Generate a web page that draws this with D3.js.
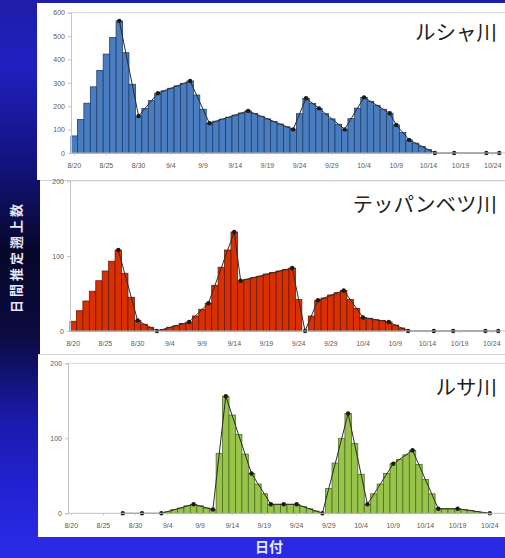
<!DOCTYPE html>
<html>
<head>
<meta charset="utf-8">
<script src="https://cdn.jsdelivr.net/npm/d3@7"></script>
<style>
  html, body { margin: 0; padding: 0; background: #0a0a30; }
  svg { display: block; }
</style>
</head>
<body>
<svg id="chart" width="505" height="558"></svg>
<script>
// x-axis labels, one every five days
const tickLabels = ["8/20","8/25","8/30","9/4","9/9","9/14","9/19","9/24","9/29","10/4","10/9","10/14","10/19","10/24"];

// daily estimated counts, 8/20 .. 10/24
const rushaDaily = [73,143,213,283,353,423,494,565,429,294,158,191,224,256,266,277,287,298,308,248,187,127,
  136,145,153,162,171,180,169,157,146,135,124,112,101,168,234,212,191,168,146,123,101,147,192,238,
  221,204,187,170,120,88,56,42,28,14,0,0,0,0,0,0,0,0,0,0];
const teppanDaily = [13,27,40,53,67,80,93,108,77,45,14,9,5,0,2,5,7,10,12,20,29,37,61,85,108,132,
  67,69,71,73,76,78,80,82,84,42,0,20,41,44,48,51,54,42,30,18,17,15,14,12,8,4,0,0,0,0,0,0,0,0,0,0,0,0,0,0];
const rusaDaily = [0,0,0,0,0,0,0,0,0,0,0,0,0,0,0,2,5,7,10,12,10,7,5,80,156,131,105,79,53,39,26,12,
  12,12,12,12,9,6,3,0,33,67,100,133,93,52,12,26,39,53,66,72,78,84,65,45,26,6,6,6,6,5,4,2,1,0];

// survey days (date, count)
const rushaObs = [["8/27",565],["8/30",158],["9/2",256],["9/7",308],["9/10",127],["9/16",180],["9/23",101],
  ["9/25",234],["9/27",191],["10/1",101],["10/4",238],["10/8",170],["10/9",120],["10/11",56],
  ["10/15",0],["10/18",0],["10/23",0],["10/25",0]];
const teppanObs = [["8/27",108],["8/30",14],["9/2",0],["9/7",12],["9/10",37],["9/14",132],["9/15",67],
  ["9/23",84],["9/25",0],["9/27",41],["10/1",54],["10/4",18],["10/8",12],["10/11",0],
  ["10/15",0],["10/18",0],["10/23",0],["10/25",0]];
const rusaObs = [["8/28",0],["8/31",0],["9/3",0],["9/8",12],["9/11",5],["9/13",156],["9/17",53],
  ["9/20",12],["9/22",12],["9/24",12],["9/28",0],["10/2",133],["10/5",12],["10/9",66],["10/12",84],
  ["10/16",6],["10/19",6],["10/24",0]];

const rivers = ["ルシャ川", "テッパンベツ川", "ルサ川"];

// calendar of category days shown on the axis
const fmt = d => `${d.getMonth() + 1}/${d.getDate()}`;
const days = d3.timeDay.range(new Date(2013, 7, 20), new Date(2013, 9, 28)).map(fmt);

const svg = d3.select("#chart");
const defs = svg.append("defs");

// slide background
const bg = defs.append("linearGradient").attr("id", "bg").attr("x1", 0).attr("y1", 0).attr("x2", 0).attr("y2", 1);
[[0, "#1e1ea8"], [0.12, "#2020c0"], [0.3, "#12127a"], [0.45, "#07072a"], [0.6, "#0b0b40"],
 [0.75, "#1a1aaa"], [0.9, "#2424d8"], [1, "#2b2be6"]].forEach(([o, c]) =>
  bg.append("stop").attr("offset", o).attr("stop-color", c));
svg.append("rect").attr("width", 505).attr("height", 558).attr("fill", "url(#bg)");
svg.append("rect").attr("x", 0).attr("y", 537).attr("width", 505).attr("height", 21).attr("fill", "#2a2ae4");

const layout = [
  { box: [37, 3, 505, 180], x0: 71, y0: 153, y1: 12.7, yMax: 600, yTicks: d3.range(0, 601, 100),
    labelY: 168, titleY: 40, fill: "#4a7dbf", stroke: "#213f6b" },
  { box: [40, 180, 505, 354], x0: 70, y0: 331, y1: 181, yMax: 200, yTicks: [0, 100, 200],
    labelY: 345, titleY: 212, fill: "#d83000", stroke: "#6e1800" },
  { box: [38, 354, 505, 537], x0: 68, y0: 513.3, y1: 363.3, yMax: 200, yTicks: [0, 100, 200],
    labelY: 528, titleY: 395, fill: "#98c44a", stroke: "#4f6e24" }
];
const series = [[rushaDaily, rushaObs], [teppanDaily, teppanObs], [rusaDaily, rusaObs]];
const step = 6.44;

layout.forEach((L, k) => {
  const [daily, obs] = series[k];
  const [bx0, by0, bx1, by1] = L.box;
  const g = svg.append("g");

  g.append("rect").attr("x", bx0).attr("y", by0).attr("width", bx1 - bx0).attr("height", by1 - by0)
    .attr("fill", "#ffffff");
  if (k > 0) {
    g.append("line").attr("x1", bx0).attr("x2", bx1).attr("y1", by0 + 0.5).attr("y2", by0 + 0.5)
      .attr("stroke", "#cfcfd6").attr("stroke-width", 1);
  }

  const clipId = "clip" + k;
  defs.append("clipPath").attr("id", clipId).append("rect")
    .attr("x", bx0).attr("y", by0).attr("width", bx1 - bx0).attr("height", by1 - by0);

  const x = d3.scaleBand().domain(days).range([L.x0, L.x0 + days.length * step]).padding(0);
  const y = d3.scaleLinear().domain([0, L.yMax]).range([L.y0, L.y1]);

  const plot = g.append("g").attr("clip-path", `url(#${clipId})`);

  // top frame line of the plot area
  plot.append("line").attr("x1", L.x0).attr("x2", bx1).attr("y1", y(L.yMax)).attr("y2", y(L.yMax))
    .attr("stroke", "#d4d4d4").attr("stroke-width", 1);

  // y axis
  const yAxis = d3.axisLeft(y).tickValues(L.yTicks).tickSize(3).tickPadding(3);
  const ya = g.append("g").attr("transform", `translate(${L.x0},0)`).call(yAxis);
  ya.select(".domain").attr("stroke", "#c4c4c4");
  ya.selectAll(".tick line").attr("stroke", "#c4c4c4");
  ya.selectAll("text").attr("fill", "#5a5a5a").attr("font-size", 7).attr("font-family", "Liberation Sans, Arial, sans-serif");

  // bars
  const rows = daily.map((v, i) => ({ day: days[i], v }));
  plot.selectAll("rect.bar").data(rows.filter(d => d.v > 0)).join("rect")
    .attr("class", "bar")
    .attr("x", d => x(d.day))
    .attr("width", x.bandwidth())
    .attr("y", d => y(d.v))
    .attr("height", d => y(0) - y(d.v))
    .attr("fill", L.fill)
    .attr("stroke", L.stroke)
    .attr("stroke-width", 0.8);

  // x axis
  const xAxis = d3.axisBottom(x).tickValues(tickLabels).tickSize(2).tickPadding(8);
  const xa = g.append("g").attr("transform", `translate(0,${L.y0})`).call(xAxis);
  xa.select(".domain").attr("stroke", "#b8c4d4").attr("d", `M${L.x0},0H${bx1}`);
  xa.selectAll(".tick line").attr("stroke", "#c4c4c4");
  xa.selectAll("text").attr("fill", "#5a5a5a").attr("font-size", 7).attr("font-family", "Liberation Sans, Arial, sans-serif");

  // survey line and markers
  const pts = obs.map(([d, v]) => [x(d) + x.bandwidth() / 2, y(v)]);
  plot.append("path").attr("d", d3.line()(pts)).attr("fill", "none")
    .attr("stroke", "#2a2a2a").attr("stroke-width", 1);
  plot.selectAll("circle").data(pts).join("circle")
    .attr("cx", p => p[0]).attr("cy", p => p[1]).attr("r", 2.2).attr("fill", "#1a1a1a");

  // river name
  g.append("text").attr("x", 497).attr("y", L.titleY).attr("text-anchor", "end")
    .attr("font-family", "Noto Sans CJK JP, sans-serif").attr("font-size", 20.5).attr("fill", "#222")
    .text(rivers[k]);
});

// axis titles
svg.append("text").attr("transform", "translate(21,257) rotate(-90)").attr("text-anchor", "middle")
  .attr("font-family", "Noto Sans CJK JP, sans-serif").attr("font-size", 13).attr("font-weight", "bold")
  .attr("letter-spacing", 3).attr("fill", "#e8e8ff").text("日間推定遡上数");
svg.append("text").attr("x", 269).attr("y", 552).attr("text-anchor", "middle")
  .attr("font-family", "Noto Sans CJK JP, sans-serif").attr("font-size", 14).attr("font-weight", "bold")
  .attr("fill", "#e8e8ff").text("日付");
</script>
</body>
</html>
